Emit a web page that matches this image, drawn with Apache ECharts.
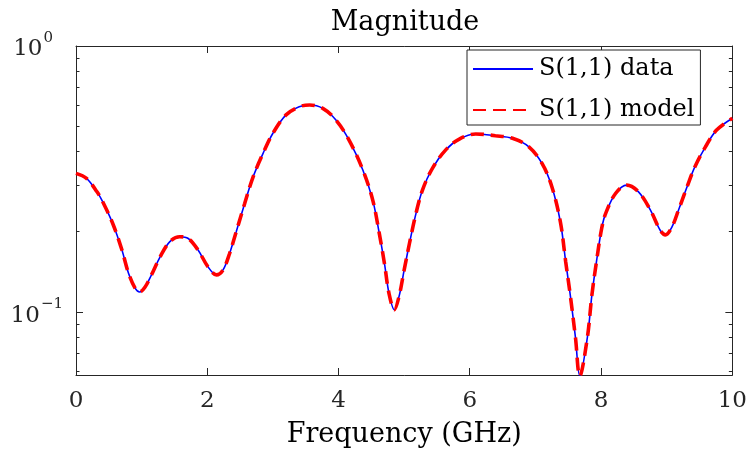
<!DOCTYPE html>
<html><head><meta charset="utf-8">
<script src="https://cdn.jsdelivr.net/npm/echarts@6/dist/echarts.min.js"></script>
<style>html,body{margin:0;padding:0;background:#fff}#c{width:750px;height:456px;background:#fff}</style>
</head><body><div id="c"></div>
<script>
const chartTitle = 'Magnitude';
const xAxisName = 'Frequency (GHz)';
const seriesNames = ['S(1,1) data', 'S(1,1) model'];
const freqGHz = [0.00,0.16,0.32,0.42,0.57,0.70,0.80,0.90,0.97,1.05,1.15,1.28,1.43,1.58,1.71,1.86,2.01,2.14,2.24,2.34,2.44,2.57,2.70,2.85,3.00,3.20,3.40,3.56,3.76,3.96,4.16,4.37,4.52,4.62,4.70,4.77,4.85,4.92,5.00,5.08,5.18,5.28,5.43,5.63,5.84,6.09,6.39,6.65,6.90,7.10,7.25,7.38,7.46,7.53,7.61,7.675,7.79,7.86,7.93,8.01,8.07,8.22,8.39,8.57,8.75,8.90,8.98,9.08,9.18,9.31,9.43,9.59,9.76,10.00];
const dataMag = [0.332,0.318,0.283,0.256,0.212,0.171,0.140,0.123,0.119,0.124,0.138,0.161,0.184,0.192,0.189,0.171,0.148,0.138,0.144,0.166,0.200,0.256,0.323,0.395,0.470,0.551,0.591,0.600,0.583,0.527,0.443,0.342,0.264,0.198,0.152,0.117,0.102,0.114,0.144,0.181,0.235,0.288,0.347,0.406,0.447,0.467,0.460,0.450,0.418,0.362,0.296,0.218,0.155,0.116,0.080,0.0575,0.080,0.116,0.155,0.207,0.235,0.279,0.300,0.283,0.242,0.203,0.195,0.209,0.242,0.296,0.352,0.418,0.483,0.535];
const modelMag = [0.332,0.318,0.283,0.256,0.212,0.171,0.140,0.123,0.119,0.124,0.138,0.161,0.184,0.192,0.189,0.171,0.148,0.138,0.144,0.166,0.200,0.256,0.323,0.395,0.470,0.551,0.591,0.600,0.583,0.527,0.443,0.342,0.264,0.198,0.152,0.117,0.102,0.114,0.144,0.181,0.235,0.288,0.347,0.406,0.447,0.467,0.460,0.450,0.418,0.362,0.296,0.218,0.155,0.116,0.080,0.0575,0.080,0.116,0.155,0.207,0.235,0.279,0.300,0.283,0.242,0.203,0.195,0.209,0.242,0.296,0.352,0.418,0.483,0.535];
const xTicks = [0, 2, 4, 6, 8, 10];
const yMajorTicks = [0.1, 1];
const yMinorTicks = [0.06, 0.07, 0.08, 0.09, 0.2, 0.3, 0.4, 0.5, 0.6, 0.7, 0.8, 0.9];
const xMin = 0, xMax = 10, yMin = 0.058, yMax = 1;

const FONT = 'DejaVu Serif';
const AX = '#262626';
const pairs = (xs, ys) => xs.map((x, i) => [x, ys[i]]);
const crisp = v => Math.round(v - 0.5) + 0.5;
const tickLine = (x1, y1, x2, y2) => ({ type: 'line', shape: { x1, y1, x2, y2 }, style: { stroke: AX, lineWidth: 1 } });

// tick marks placed through the axes' own scales (api.coord)
function xTickSeries(len) {
  return {
    type: 'custom', silent: true, z: 1, clip: false,
    data: xTicks.map(v => [v, yMin]),
    renderItem: (params, api) => {
      const b = api.coord([api.value(0), yMin]);
      const t = api.coord([api.value(0), yMax]);
      const x = crisp(b[0]);
      return { type: 'group', children: [
        tickLine(x, b[1], x, b[1] - len),
        tickLine(x, t[1], x, t[1] + len)
      ] };
    }
  };
}
function yTickSeries(values, len) {
  return {
    type: 'custom', silent: true, z: 1, clip: false,
    data: values.map(v => [xMin, v]),
    renderItem: (params, api) => {
      const l = api.coord([xMin, api.value(1)]);
      const r = api.coord([xMax, api.value(1)]);
      const y = crisp(l[1]);
      return { type: 'group', children: [
        tickLine(l[0], y, l[0] + len, y),
        tickLine(r[0], y, r[0] - len, y)
      ] };
    }
  };
}

const chart = echarts.init(document.getElementById('c'));
chart.setOption({
  animation: false,
  title: {
    text: chartTitle, left: 405, top: 9, textAlign: 'center', padding: 0,
    textStyle: { fontFamily: FONT, fontSize: 27, fontWeight: 'normal', color: '#000' }
  },
  grid: { left: 76, right: 16, top: 46, bottom: 81 },
  legend: {
    orient: 'vertical', left: 467, top: 50, padding: [7, 6, 3, 5],
    itemWidth: 60, itemHeight: 14, itemGap: 17,
    borderColor: AX, borderWidth: 1, backgroundColor: '#fff',
    itemStyle: { opacity: 0 },
    textStyle: { fontFamily: FONT, fontSize: 24, color: '#000', padding: [0, 0, 0, 1] },
    data: seriesNames
  },
  xAxis: [
    {
      type: 'value', min: xMin, max: xMax, interval: 2, position: 'bottom',
      name: xAxisName, nameLocation: 'middle', nameGap: 46,
      nameTextStyle: { fontFamily: FONT, fontSize: 27, color: '#000' },
      axisLine: { show: true, onZero: false, lineStyle: { color: AX, width: 1 } },
      axisTick: { show: false },
      axisLabel: { show: true, fontFamily: FONT, fontSize: 23, color: AX, margin: 15,
        formatter: v => xTicks.includes(v) ? String(v) : '' },
      splitLine: { show: false }
    },
    {
      type: 'value', min: xMin, max: xMax, interval: 2, position: 'top',
      axisLine: { show: true, onZero: false, lineStyle: { color: AX, width: 1 } },
      axisTick: { show: false }, axisLabel: { show: false }, splitLine: { show: false }
    }
  ],
  yAxis: [
    {
      type: 'log', logBase: 10, min: yMin, max: yMax, position: 'left',
      axisLine: { show: true, onZero: false, lineStyle: { color: AX, width: 1 } },
      axisTick: { show: false },
      axisLabel: {
        show: true, customValues: yMajorTicks, margin: 13,
        formatter: v => {
          const e = Math.round(Math.log10(v));
          return e === 0 ? '{b|10}{s|0}{g|}' : '{b|10}{s|\u2212' + (-e) + '}';
        },
        rich: {
          b: { fontFamily: FONT, fontSize: 23, color: AX, lineHeight: 30, verticalAlign: 'bottom' },
          s: { fontFamily: FONT, fontSize: 15, color: AX, lineHeight: 30, verticalAlign: 'top', padding: [0, 0, 0, 1] },
          g: { width: 10 }
        }
      },
      splitLine: { show: false }
    },
    {
      type: 'log', logBase: 10, min: yMin, max: yMax, position: 'right',
      axisLine: { show: true, onZero: false, lineStyle: { color: AX, width: 1 } },
      axisTick: { show: false }, axisLabel: { show: false }, splitLine: { show: false }
    }
  ],
  series: [
    xTickSeries(7),
    yTickSeries(yMajorTicks, 7),
    yTickSeries(yMinorTicks, 3.5),
    {
      name: seriesNames[0], type: 'line', data: pairs(freqGHz, dataMag),
      showSymbol: false, symbol: 'none', smooth: 0.35, z: 2,
      lineStyle: { color: '#0000ff', width: 1.6 }, itemStyle: { color: '#0000ff' }
    },
    {
      name: seriesNames[1], type: 'line', data: pairs(freqGHz, modelMag),
      showSymbol: false, symbol: 'none', smooth: 0.35, z: 3,
      lineStyle: { color: '#ff0000', width: 3.6, type: [13, 7] }, itemStyle: { color: '#ff0000' }
    }
  ]
});
</script></body></html>
